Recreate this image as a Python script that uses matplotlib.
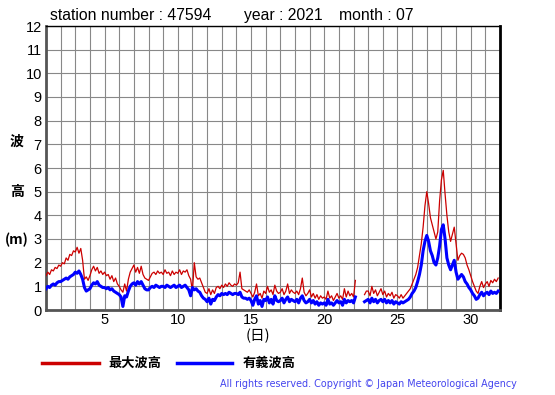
import numpy as np
import matplotlib.pyplot as plt

# Hourly-ish sampling: 8 readings per day (every 3 h), July 2021, station 47594
nan = np.nan
max_wave = [
    1.45, 1.6, 1.5, 1.7, 1.65, 1.8, 1.75, 1.9,      # 1
    1.85, 2.0, 1.95, 2.2, 2.1, 2.35, 2.3, 2.5,      # 2
    2.45, 2.65, 2.4, 2.6, 2.1, 1.3, 1.4, 1.25,      # 3
    1.45, 1.7, 1.85, 1.65, 1.8, 1.55, 1.65, 1.5,    # 4
    1.6, 1.45, 1.5, 1.3, 1.45, 1.2, 1.35, 1.1,      # 5
    1.0, 0.85, 0.75, 1.1, 0.8, 1.3, 1.6, 1.75,      # 6
    1.9, 1.6, 1.8, 1.55, 1.85, 1.5, 1.35, 1.3,      # 7
    1.25, 1.4, 1.55, 1.6, 1.5, 1.65, 1.55, 1.6,     # 8
    1.5, 1.7, 1.55, 1.6, 1.45, 1.65, 1.5, 1.6,      # 9
    1.55, 1.7, 1.5, 1.65, 1.6, 1.7, 1.45, 1.3,      # 10
    0.8, 2.0, 1.4, 1.3, 1.35, 1.15, 0.95, 0.75,     # 11
    0.7, 0.9, 0.65, 0.85, 0.7, 0.95, 1.0, 0.9,      # 12
    1.05, 0.95, 1.1, 1.0, 1.15, 1.05, 1.0, 1.1,     # 13
    1.05, 1.15, 1.6, 0.9, 0.85, 0.8, 0.75, 0.85,    # 14
    0.7, 0.55, 0.75, 1.1, 0.6, 0.7, 0.5, 0.8,       # 15
    0.7, 1.0, 0.75, 0.85, 0.65, 1.05, 0.8, 0.7,     # 16
    0.75, 0.9, 0.65, 0.8, 1.1, 0.7, 0.85, 0.75,     # 17
    0.7, 0.8, 0.65, 0.9, 1.35, 0.75, 0.6, 0.7,      # 18
    0.85, 0.55, 0.7, 0.5, 0.65, 0.45, 0.6, 0.5,     # 19
    0.55, 0.45, 0.8, 0.5, 0.6, 0.4, 0.55, 0.7,      # 20
    0.5, 0.6, 0.45, 0.9, 0.55, 0.8, 0.6, 0.7,       # 21
    0.55, 1.25, nan, nan, nan, nan, 0.65, 0.8,      # 22
    0.8, 0.6, 1.0, 0.7, 0.85, 0.6, 0.75, 0.9,       # 23
    0.65, 0.8, 0.55, 0.7, 0.6, 0.75, 0.5, 0.65,     # 24
    0.6, 0.5, 0.65, 0.5, 0.6, 0.7, 0.8, 0.9,        # 25
    1.1, 1.3, 1.5, 1.8, 2.3, 2.8, 3.5, 4.4,         # 26
    5.0, 4.5, 3.9, 3.6, 3.3, 3.0, 3.3, 4.6,         # 27
    5.5, 5.9, 4.9, 4.0, 3.3, 2.9, 3.2, 3.5,         # 28
    2.8, 2.1, 2.3, 2.4, 2.35, 2.2, 1.9, 1.7,        # 29
    1.45, 1.2, 1.0, 0.8, 0.7, 1.0, 1.2, 0.95,       # 30
    1.1, 1.2, 1.0, 1.25, 1.15, 1.3, 1.2, 1.35,      # 31
]
sig_wave = [
    0.9, 1.0, 0.95, 1.05, 1.1, 1.05, 1.15, 1.2,     # 1
    1.2, 1.25, 1.3, 1.35, 1.3, 1.4, 1.45, 1.5,      # 2
    1.6, 1.55, 1.65, 1.5, 1.3, 0.95, 0.8, 0.85,     # 3
    0.9, 1.05, 1.15, 1.1, 1.2, 1.05, 1.0, 0.95,     # 4
    0.95, 0.9, 0.95, 0.85, 0.9, 0.8, 0.75, 0.7,     # 5
    0.65, 0.55, 0.15, 0.6, 0.55, 0.8, 1.0, 1.1,     # 6
    1.15, 1.05, 1.2, 1.1, 1.2, 1.05, 0.9, 0.85,     # 7
    0.85, 0.95, 1.0, 0.95, 1.05, 1.0, 0.95, 1.0,    # 8
    1.0, 0.95, 1.05, 1.0, 0.95, 1.0, 1.05, 0.95,    # 9
    1.0, 1.05, 0.95, 1.0, 1.05, 0.95, 0.85, 0.6,    # 10
    0.95, 0.85, 0.9, 0.8, 0.75, 0.6, 0.5, 0.45,     # 11
    0.35, 0.5, 0.25, 0.45, 0.4, 0.55, 0.65, 0.6,    # 12
    0.7, 0.65, 0.7, 0.65, 0.75, 0.7, 0.65, 0.7,     # 13
    0.7, 0.65, 0.75, 0.55, 0.5, 0.5, 0.45, 0.5,     # 14
    0.4, 0.2, 0.45, 0.6, 0.25, 0.4, 0.15, 0.45,     # 15
    0.4, 0.55, 0.3, 0.45, 0.25, 0.6, 0.4, 0.35,     # 16
    0.4, 0.5, 0.3, 0.45, 0.55, 0.35, 0.45, 0.4,     # 17
    0.35, 0.45, 0.3, 0.5, 0.6, 0.4, 0.3, 0.35,      # 18
    0.45, 0.3, 0.4, 0.25, 0.35, 0.2, 0.3, 0.25,     # 19
    0.3, 0.2, 0.45, 0.25, 0.3, 0.2, 0.3, 0.4,       # 20
    0.3, 0.35, 0.2, 0.45, 0.3, 0.4, 0.35, 0.4,      # 21
    0.3, 0.55, nan, nan, nan, nan, 0.35, 0.4,       # 22
    0.45, 0.3, 0.5, 0.35, 0.45, 0.3, 0.4, 0.45,     # 23
    0.35, 0.45, 0.3, 0.4, 0.3, 0.4, 0.25, 0.35,     # 24
    0.3, 0.25, 0.35, 0.3, 0.35, 0.4, 0.45, 0.55,    # 25
    0.7, 0.8, 0.95, 1.2, 1.5, 1.9, 2.5, 2.9,        # 26
    3.15, 2.9, 2.5, 2.3, 2.0, 1.9, 2.2, 2.7,        # 27
    3.4, 3.6, 3.0, 2.2, 1.9, 1.7, 1.9, 2.1,         # 28
    1.6, 1.3, 1.4, 1.5, 1.4, 1.2, 1.1, 0.95,        # 29
    0.85, 0.7, 0.6, 0.45, 0.5, 0.65, 0.75, 0.6,     # 30
    0.7, 0.75, 0.65, 0.8, 0.7, 0.75, 0.7, 0.8,      # 31
]
readings_per_day = 8
days = 1 + np.arange(len(max_wave)) / readings_per_day

x_ticks = [5, 10, 15, 20, 25, 30]
y_ticks = list(range(0, 13))

cjk = ["Noto Sans CJK JP", "DejaVu Sans"]
plt.rcParams["font.family"] = ["Liberation Sans", "DejaVu Sans"]

fig = plt.figure(figsize=(5.55, 3.95), dpi=100)
ax = fig.add_axes([46 / 555, 1 - 310 / 395, 454 / 555, 284 / 395])

ax.plot(days, max_wave, color="#cc0000", linewidth=0.9, zorder=3)
ax.plot(days, sig_wave, color="#0000ff", linewidth=2.2, zorder=4)

ax.set_xlim(1, 32)
ax.set_ylim(0, 12)
ax.set_xticks(range(1, 33), minor=True)
ax.set_xticks(x_ticks)
ax.set_yticks(y_ticks)
ax.grid(True, which="both", axis="x", color="#888888", linewidth=0.8)
ax.grid(True, which="major", axis="y", color="#888888", linewidth=0.8)
ax.set_axisbelow(True)
ax.tick_params(which="both", length=0, labelsize=10.5, pad=3)
ax.tick_params(axis="x", pad=2)

ax.spines["left"].set_color("#555555")
ax.spines["left"].set_linewidth(2)
ax.spines["bottom"].set_color("#555555")
ax.spines["bottom"].set_linewidth(2)
ax.spines["top"].set_color("black")
ax.spines["top"].set_linewidth(1)
ax.spines["right"].set_color("black")
ax.spines["right"].set_linewidth(2)

# header
fig.text(50 / 555, 1 - 20 / 395, "station number : 47594", fontsize=11.3)
fig.text(244 / 555, 1 - 20 / 395, "year : 2021", fontsize=11.3)
fig.text(339 / 555, 1 - 20 / 395, "month : 07", fontsize=11.3)

# stacked y label
for txt, y in [("波", 142), ("高", 192), ("(m)", 240)]:
    fig.text(17 / 555, 1 - y / 395, txt, family=cjk, fontsize=10,
             fontweight="bold", ha="center", va="center")
fig.text(258 / 555, 1 - 336 / 395, "(日)", family=cjk, fontsize=10.5,
         ha="center", va="center")

# legend
fig.add_artist(plt.Line2D([42 / 555, 99 / 555], [1 - 363 / 395] * 2,
                          color="#cc0000", linewidth=2.5))
fig.text(108 / 555, 1 - 363 / 395, "最大波高", family=cjk, fontsize=9.5,
         fontweight="bold", va="center")
fig.add_artist(plt.Line2D([177 / 555, 232 / 555], [1 - 363 / 395] * 2,
                          color="#0000ff", linewidth=2.5))
fig.text(243 / 555, 1 - 363 / 395, "有義波高", family=cjk, fontsize=9.5,
         fontweight="bold", va="center")

fig.text(517 / 555, 1 - 384 / 395,
         "All rights reserved. Copyright © Japan Meteorological Agency",
         family="DejaVu Sans", fontsize=6.9, color="#4444ee",
         ha="right", va="center")

fig.savefig("out.png", dpi=100)
